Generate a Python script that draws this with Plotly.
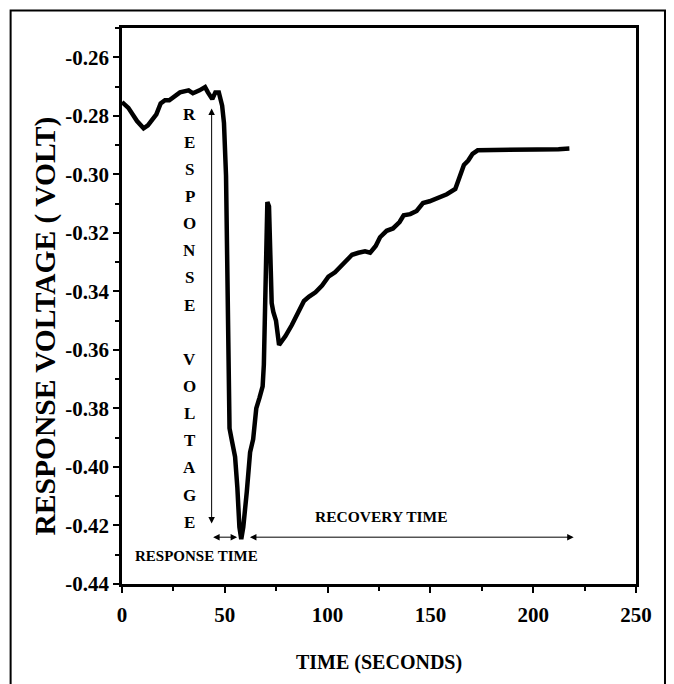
import plotly.graph_objects as go

# ---- data ----
time_s = [0, 3.1, 7.3, 10.5, 12.6, 14.6, 16.7, 18.8, 20.9, 23.0, 25.1, 28.2, 32.4, 34.5,
          37.7, 40.4, 41.8, 43.9, 45.4, 47.1, 48.7, 49.6, 50.6, 51.3, 51.9, 52.3, 53.3,
          55.0, 56.1, 57.1, 58.0, 59.0, 60.7, 62.3, 63.8, 65.3, 66.9, 68.4, 69.0, 69.7,
          70.1, 70.7, 71.5, 72.2, 72.8, 73.6, 74.9, 76.4, 77.4, 79.5, 82.6, 85.8, 88.5,
          91.0, 94.1, 97.3, 100.4, 103.6, 107.7, 111.9, 115.0, 118.2, 120.7, 123.4,
          125.5, 128.7, 131.8, 135.0, 137.0, 140.2, 143.3, 146.4, 149.6, 153.8, 158.0,
          162.1, 164.2, 166.3, 168.4, 170.5, 173.0, 181.0, 191.4, 201.9, 212.3, 217.6]
voltage = [-0.2753, -0.2773, -0.2818, -0.2843, -0.2833, -0.2813, -0.2795, -0.2758, -0.2747,
           -0.2747, -0.2735, -0.2720, -0.2713, -0.2723, -0.2713, -0.2702, -0.2720, -0.2743,
           -0.2720, -0.2720, -0.2765, -0.2825, -0.3005, -0.3305, -0.3605, -0.3868, -0.3905,
           -0.3965, -0.4070, -0.4205, -0.4247, -0.4205, -0.4085, -0.3950, -0.3905, -0.3800,
           -0.3763, -0.3725, -0.3650, -0.3455, -0.3245, -0.3095, -0.3110, -0.3335, -0.3440,
           -0.3470, -0.3500, -0.3583, -0.3575, -0.3553, -0.3515, -0.3470, -0.3433, -0.3418,
           -0.3403, -0.3380, -0.3350, -0.3335, -0.3305, -0.3275, -0.3268, -0.3263, -0.3268,
           -0.3245, -0.3215, -0.3193, -0.3185, -0.3163, -0.3140, -0.3136, -0.3125, -0.3098,
           -0.3092, -0.3080, -0.3068, -0.3050, -0.3013, -0.2968, -0.2953, -0.2930, -0.2918,
           -0.2918, -0.2917, -0.2915, -0.2914, -0.2912]

x_ticks = [0, 50, 100, 150, 200, 250]
y_ticks = [-0.26, -0.28, -0.30, -0.32, -0.34, -0.36, -0.38, -0.40, -0.42, -0.44]
y_tick_text = [f"{v:.2f}" for v in y_ticks]

vertical_label = "RESPONSE VOLTAGE"
x_title = "TIME (SECONDS)"
y_title = "RESPONSE VOLTAGE ( VOLT)"
response_time_label = "RESPONSE TIME"
recovery_time_label = "RECOVERY TIME"

FONT = "Liberation Serif, Times New Roman, serif"

fig = go.Figure()
fig.add_trace(go.Scatter(x=time_s, y=voltage, mode="lines",
                         line=dict(color="black", width=4.5), showlegend=False,
                         hoverinfo="skip"))

axis_common = dict(showline=True, linecolor="black", linewidth=2.5, mirror=True,
                   showgrid=False, zeroline=False, ticks="outside", ticklen=6,
                   tickwidth=2, tickcolor="black",
                   tickfont=dict(family=FONT, size=21, color="black", weight="bold"))

fig.update_xaxes(range=[0, 250], tickmode="array", tickvals=x_ticks,
                 ticktext=[str(v) for v in x_ticks],
                 minor=dict(ticks="outside", ticklen=4, tickwidth=1.5, tickcolor="black",
                            tickmode="linear", tick0=25, dtick=50),
                 ticklabelstandoff=4,
                 **axis_common)
fig.update_yaxes(range=[-0.44, -0.25], tickmode="array", tickvals=y_ticks,
                 ticktext=y_tick_text,
                 minor=dict(ticks="outside", ticklen=4, tickwidth=1.5, tickcolor="black",
                            tickmode="linear", tick0=-0.27, dtick=0.02),
                 **axis_common)

ann = []
# vertical letters
y0_letter = -0.2797
step = 0.00928
for i, ch in enumerate(vertical_label):
    if ch == " ":
        continue
    ann.append(dict(x=33.0, y=y0_letter - i * step, xref="x", yref="y", text=ch,
                    showarrow=False,
                    font=dict(family=FONT, size=17, color="black", weight="bold")))

arrow_style = dict(xref="x", yref="y", axref="x", ayref="y", text="", showarrow=True,
                   arrowside="end+start", arrowhead=2, startarrowhead=2, arrowsize=1.3,
                   startarrowsize=1.3, arrowwidth=1, arrowcolor="black")
# vertical double arrow
ann.append(dict(x=43.6, y=-0.2775, ax=43.6, ay=-0.4198, **arrow_style))
# response time arrow
ann.append(dict(x=56.0, y=-0.4240, ax=43.6, ay=-0.4240, **arrow_style))
# recovery time arrow
ann.append(dict(x=219.7, y=-0.4240, ax=61.5, ay=-0.4240, **arrow_style))

ann.append(dict(x=36.1, y=-0.4303, xref="x", yref="y", text=response_time_label,
                showarrow=False, font=dict(family=FONT, size=15, color="black", weight="bold")))
ann.append(dict(x=126.4, y=-0.4170, xref="x", yref="y", text=recovery_time_label,
                showarrow=False, font=dict(family=FONT, size=15.5, color="black", weight="bold")))

# axis titles
ann.append(dict(x=-0.149, y=0.464, xref="paper", yref="paper", text=y_title,
                textangle=-90, showarrow=False, xanchor="center", yanchor="middle",
                font=dict(family=FONT, size=29.5, color="black", weight="bold")))
ann.append(dict(x=0.5005, y=-0.142, xref="paper", yref="paper", text=x_title,
                showarrow=False, xanchor="center", yanchor="middle",
                font=dict(family=FONT, size=20, color="black", weight="bold")))

fig.update_layout(
    width=674, height=684,
    margin=dict(l=113.5, r=46, t=20, b=108, pad=0),
    paper_bgcolor="white", plot_bgcolor="white",
    annotations=ann,
    shapes=[dict(type="rect", xref="paper", yref="paper",
                 x0=-0.2167, x1=1.0564, y0=-0.3, y1=1.0313,
                 line=dict(color="black", width=2), fillcolor="rgba(0,0,0,0)",
                 layer="below")],
)

fig.write_html("out.html")
